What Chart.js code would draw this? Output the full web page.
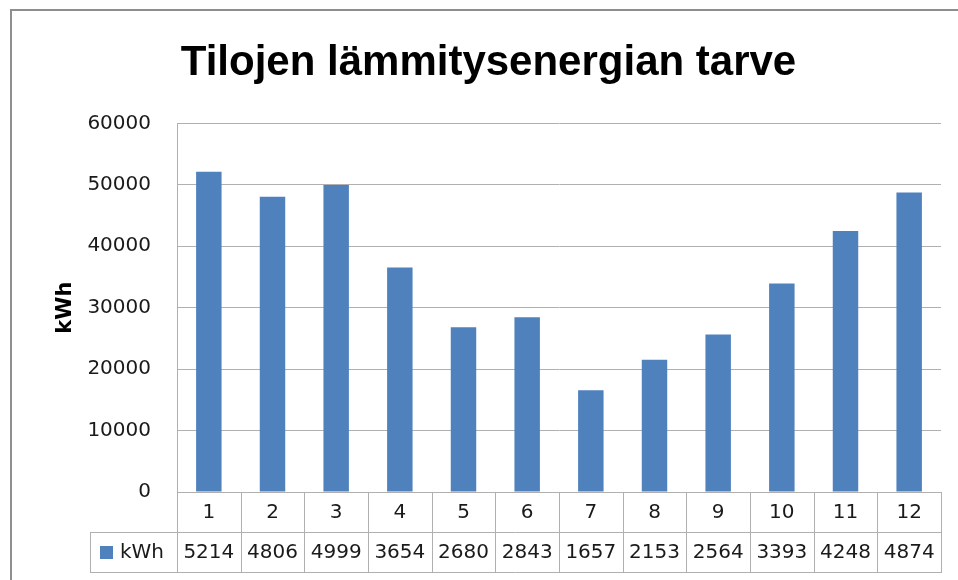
<!DOCTYPE html>
<html>
<head>
<meta charset="utf-8">
<script src="https://cdn.jsdelivr.net/npm/chart.js@4"></script>
<style>
  html, body { margin: 0; padding: 0; background: #fff; }
  #wrap { width: 958px; height: 580px; }
</style>
</head>
<body>
<div id="wrap"><canvas id="graph" width="958" height="580"></canvas></div>
<script>
// kuukaudet ja lämmitysenergia (kWh)
var months      = ["1", "2", "3", "4", "5", "6", "7", "8", "9", "10", "11", "12"];
var kwh         = [52140, 48060, 49990, 36540, 26800, 28430, 16570, 21530, 25640, 33930, 42480, 48740];
// taulukossa näkyvät (katkenneet) luvut
var table_text  = ["5214", "4806", "4999", "3654", "2680", "2843", "1657", "2153", "2564", "3393", "4248", "4874"];
var y_ticks     = [0, 10000, 20000, 30000, 40000, 50000, 60000];

var CHART       = null;
var NUM_FONT    = "'DejaVu Sans', sans-serif";
var GRID_COLOR  = "#b0b0b0";
var TEXT_COLOR  = "#1a1a1a";
var BAR_COLOR   = "#4f81bd";

// ulkoreunus
var frame_plugin = {
    id: "frame",
    beforeDraw: function(chart){
        let ctx = chart.ctx;
        ctx.save();
        ctx.fillStyle = "#fff";
        ctx.fillRect(0, 0, chart.width, chart.height);
        ctx.strokeStyle = "#8e8e8e";
        ctx.lineWidth = 2;
        ctx.strokeRect(11, 10, 1200, 1200);
        ctx.restore();
    }
};

// datataulukko x-akselin alle
var table_plugin = {
    id: "datatable",
    afterDraw: function(chart){
        let ctx     = chart.ctx;
        let area    = chart.chartArea;
        let n       = months.length;
        let cat_w   = (area.right - area.left) / n;
        let row_h   = 40;
        let y0      = area.bottom;
        let y1      = y0 + row_h;
        let y2      = y1 + row_h;
        let leg_x   = 90;

        ctx.save();
        ctx.strokeStyle = GRID_COLOR;
        ctx.lineWidth = 1;
        ctx.beginPath();
        ctx.moveTo(leg_x, Math.round(y1) + 0.5);
        ctx.lineTo(area.right, Math.round(y1) + 0.5);
        ctx.moveTo(leg_x, Math.round(y2) + 0.5);
        ctx.lineTo(area.right, Math.round(y2) + 0.5);
        ctx.moveTo(leg_x + 0.5, Math.round(y1));
        ctx.lineTo(leg_x + 0.5, Math.round(y2) + 1);
        for (let i=0;i<=n;i++){
            let x = Math.round(area.left + i * cat_w) + 0.5;
            ctx.moveTo(x, Math.round(y0));
            ctx.lineTo(x, Math.round(y2) + 1);
        }
        ctx.stroke();

        ctx.fillStyle = TEXT_COLOR;
        ctx.font = "20px " + NUM_FONT;
        ctx.textAlign = "center";
        ctx.textBaseline = "middle";
        for (let i=0;i<n;i++){
            let cx = chart.scales.x.getPixelForValue(i);
            ctx.fillText(table_text[i], cx, (y1 + y2) / 2 + 1);
        }

        // selite
        ctx.fillStyle = BAR_COLOR;
        ctx.fillRect(100, 546, 13, 13);
        ctx.fillStyle = TEXT_COLOR;
        ctx.textAlign = "left";
        ctx.fillText(chart.data.datasets[0].label, 120, (y1 + y2) / 2 + 1);
        ctx.restore();
    }
};

window.addEventListener("load", function(){

    let ctx = document.getElementById("graph");

    let data = {
        labels: months,
        datasets: [ {
            label: "kWh",
            data: kwh,
            backgroundColor: BAR_COLOR,
            borderWidth: 0,
            barPercentage: 0.4,
            categoryPercentage: 1.0
        } ]
    };

    let options = {
        responsive: false,
        animation: false,
        devicePixelRatio: 1,
        layout: { padding: { left: 36, top: 0, right: 17, bottom: 8 } },
        plugins: {
            legend: { display: false },
            tooltip: { enabled: false },
            title: {
                display: true,
                text: "Tilojen lämmitysenergian tarve",
                color: "#000",
                font: { family: "'Liberation Sans', Arial, sans-serif", size: 42, weight: "bold", lineHeight: 1.2 },
                padding: { top: 38, bottom: 35 }
            }
        },
        scales: {
            x: {
                grid: { display: false, drawTicks: false },
                border: { display: true, color: GRID_COLOR },
                ticks: { color: TEXT_COLOR, font: { family: NUM_FONT, size: 20 }, padding: 9, maxRotation: 0 },
                afterFit: function(scale){ scale.height = 80; }
            },
            y: {
                min: 0,
                max: 60000,
                afterBuildTicks: function(scale){
                    scale.ticks = y_ticks.map(function(v){ return { value: v }; });
                },
                grid: { color: GRID_COLOR, drawTicks: false },
                border: { display: true, color: GRID_COLOR },
                ticks: {
                    color: TEXT_COLOR,
                    font: { family: NUM_FONT, size: 20 },
                    padding: 26,
                    callback: function(v){ return String(v); }
                },
                title: {
                    display: true,
                    text: "kWh",
                    color: "#000",
                    font: { family: NUM_FONT, size: 21, weight: "bold" },
                    padding: { top: 17, bottom: 0 }
                },
                afterFit: function(scale){ scale.width = 141; }
            }
        }
    };

    CHART = new Chart(ctx, {
        type: "bar",
        data: data,
        options: options,
        plugins: [frame_plugin, table_plugin]
    });

});
</script>
</body>
</html>
